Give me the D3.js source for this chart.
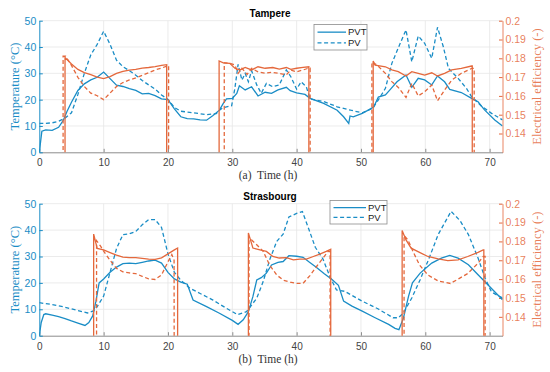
<!DOCTYPE html>
<html>
<head>
<meta charset="utf-8">
<script src="https://cdn.jsdelivr.net/npm/d3@7"></script>
<style>
body { margin: 0; background: #fff; }
text { font-family: "Liberation Sans", Arial, sans-serif; }
.serif { font-family: "Liberation Serif", "Times New Roman", serif; }
</style>
</head>
<body>
<script>
// Tampere, temperature (degC) vs time (h)
var tamperePvtTemp = [[0,0],[0.4,8],[1,8.5],[2,8.3],[3,9.5],[3.7,12],[4.3,15.5],[5,19],[6,23.5],[7,26],[8,27.5],[9,28.5],[10,30.5],[11,28],[12,25.5],[13,25],[14,24.2],[15,23.5],[16,22.2],[17,22.4],[18,21.5],[19,20.3],[20,20],[21,16.5],[22,13.5],[23,12.8],[24,12.7],[25,12.3],[26,12.2],[27,14],[28,16],[28.6,18.6],[29.1,20.3],[30,20.5],[30.7,22.4],[31.1,25.3],[32,23.7],[33,24.9],[34,21.4],[35.1,22.8],[36.1,22.4],[37.1,23.7],[38.4,24.7],[39,23.4],[40,22.6],[41.3,22],[42.1,20.5],[44.2,18.6],[46.3,16],[47.3,13.5],[48.1,11],[48.3,13.8],[48.8,13.5],[50.2,14.8],[51.2,16.1],[52,17.3],[52.7,21],[53.8,21.8],[54.5,23.7],[55.6,26.8],[57,29.4],[57.9,24.7],[58.9,28.1],[59.9,27.5],[61,25.6],[61.9,29],[63,26.8],[63.8,23.9],[65.6,22.7],[67.2,20.5],[68.2,19.2],[69.2,16.1],[70.8,12.3],[72,10]];
var tamperePvTemp = [[0,11],[1,11],[2,11.2],[3,11.8],[4,13],[5,15],[6,22],[7,30],[8,37],[9,41],[10,46],[11,41],[12,35],[13,32.5],[14,31],[15,29.3],[16,27.3],[17,25.6],[18,24],[19,21.8],[20,20.1],[21,17],[22,15.6],[24,15],[26,14.3],[27.5,14.7],[28,16],[28.6,17],[29.9,17.7],[30.4,24.3],[30.9,33.4],[31.5,27.4],[32,30],[32.5,26.8],[33,31],[33.8,25.6],[34.5,22.4],[35.3,26.2],[36.3,24.9],[37.3,25.6],[38.4,31.3],[39.1,28.7],[40,24],[40.7,26.8],[41.5,24.9],[42.1,20.3],[44.2,19.3],[46.3,17.3],[48.4,16],[50.2,15],[51.8,16.7],[52.7,19.9],[53.8,24.3],[54.8,33.8],[56.1,41.4],[57,46.5],[57.9,34.4],[58.9,44.2],[59.9,41.4],[61,35.7],[61.9,47.5],[62.8,40.1],[63.6,31.9],[65.1,28.1],[66.4,24.3],[67.2,21.1],[68.7,17.6],[70.3,14.8],[72,12.3]];
// Tampere, electrical efficiency (-) vs time (h), 0 at night
var tamperePvtEff = [[0,0],[4,0],[4,0.1804],[5,0.177],[6,0.1741],[7,0.1724],[8,0.1713],[9,0.170],[10,0.1692],[11,0.1703],[12,0.172],[13,0.173],[14,0.1737],[15,0.1741],[16,0.1748],[17,0.1751],[18,0.1756],[19,0.1762],[19.8,0.1766],[19.8,0],[27.95,0],[27.95,0.1786],[28.6,0.1776],[29.6,0.1773],[30.4,0.1747],[31.2,0.1738],[32,0.1751],[33,0.1738],[34,0.1755],[35.1,0.1747],[36.3,0.1751],[37.3,0.1742],[38.4,0.1751],[39.1,0.1741],[40,0.1747],[41,0.1752],[41.9,0.1755],[41.9,0],[51.9,0],[51.9,0.1785],[52.2,0.1764],[53.8,0.1755],[54.8,0.1738],[55.8,0.1729],[57,0.1706],[57.9,0.1729],[58.9,0.172],[59.9,0.1711],[61,0.1723],[61.9,0.1706],[63,0.172],[64.1,0.1738],[65.6,0.1746],[67.2,0.1759],[67.3,0.1759],[67.3,0],[72,0]];
var tamperePvEff = [[0,0],[3.7,0],[3.7,0.1811],[4.1,0.1811],[5,0.1762],[6,0.1699],[7,0.165],[8,0.1615],[9,0.1601],[10,0.158],[11,0.1615],[12,0.165],[13,0.1671],[14,0.1685],[15,0.1696],[16,0.171],[17,0.1723],[18,0.1738],[19,0.1748],[20.1,0.1762],[20.1,0],[28.75,0],[28.75,0.1776],[29.6,0.1773],[30.4,0.1765],[30.9,0.172],[31.5,0.1747],[32.3,0.1714],[33,0.1747],[34,0.1728],[35.1,0.172],[36.1,0.1726],[37.3,0.172],[38.4,0.1712],[39.1,0.1738],[40,0.1728],[41,0.1738],[41.8,0.1747],[42.1,0.1747],[42.1,0],[51.7,0],[51.7,0.178],[52.5,0.1764],[53.8,0.172],[54.8,0.1676],[55.8,0.1645],[57,0.1592],[57.9,0.1667],[58.9,0.16],[59.9,0.1622],[61,0.1658],[61.9,0.1574],[63,0.1631],[64.1,0.1684],[65.6,0.172],[67.2,0.1746],[67.6,0.1746],[67.6,0],[72,0]];

// Strasbourg
var strasPvtTemp = [[0,0],[0.3,5],[0.7,8],[1,8.3],[2,7.8],[3,7.2],[4,6.5],[5,5.6],[6,4.8],[7.1,3.9],[7.7,5],[8.3,7.5],[8.8,13],[9.3,20],[10,21.5],[11,24],[12,26],[13,27.3],[14,27.5],[15,27.3],[16,27.8],[17,28.3],[18,28.6],[19,27.5],[20,24],[21,21.5],[22,20.3],[23,19.5],[23.9,13.5],[26,11],[28,8.5],[30,5.8],[30.9,4.3],[31.7,6],[32.5,9.1],[33.2,14.8],[33.8,21.1],[34.5,22],[35.3,23.7],[36.1,26.8],[37.1,27.8],[37.9,28.1],[38.8,30.3],[40,30.1],[41,29.7],[42,27.8],[43,26],[44.3,23.5],[45.5,21.3],[46.5,19.1],[47.3,13.1],[48.6,11.2],[50.2,9.3],[52.2,6.8],[54.3,4.3],[55.3,2.8],[55.9,2.3],[56.6,6.7],[57.4,15],[58,20],[59.2,23.7],[61,27.5],[62.5,29.4],[63.8,30.4],[65.1,29.4],[66.7,26.9],[68.2,23.1],[69.8,19.1],[72,13.6]];
var strasPvTemp = [[0,12.5],[2,11.8],[4,10.8],[6,9.5],[7.5,8.6],[8.5,9.5],[9,11],[10,15],[11,24],[12,33],[13,38.3],[14,38.6],[15,39.5],[16,42],[17,44],[18,44],[19,41],[20,31],[21,24],[22,21],[23.4,18],[25,16],[27,13.5],[29,10.5],[30.8,8],[32.2,9.1],[33,11.6],[33.8,14.2],[34.8,20.5],[35.8,28.7],[36.9,35.7],[37.9,38.5],[38.8,45],[40,46.3],[40.9,47],[41.9,40.3],[42.9,33.5],[44.1,29],[45.2,22.2],[46.2,17.3],[47.5,16.8],[50.1,13.2],[52.7,10.1],[55,6.8],[55.8,6.8],[56.6,8.6],[57.9,14.3],[59.2,21.2],[60.5,28.8],[62,38.3],[64,47.1],[65.4,43.6],[66.7,38.3],[68.2,29.4],[69.3,21.8],[70.3,16.5],[72,14.3]];
var strasPvtEff = [[0,0],[8.45,0],[8.45,0.1839],[9,0.1763],[10,0.1755],[11,0.1741],[12,0.1727],[13,0.1717],[14,0.1714],[15,0.1714],[16,0.171],[17,0.1706],[18,0.1705],[19,0.1713],[20,0.1734],[21,0.1755],[21.5,0.1765],[21.5,0],[32.5,0],[32.5,0.1845],[33.2,0.1765],[34.3,0.1755],[35.3,0.1747],[36.3,0.172],[37.3,0.1712],[38.4,0.1714],[39.5,0.1702],[40.5,0.1706],[41.5,0.1706],[42.6,0.172],[43.6,0.1733],[44.6,0.1747],[45.3,0.1758],[45.3,0],[56.4,0],[56.4,0.1858],[57,0.1808],[57.8,0.1764],[59.1,0.1742],[60.4,0.172],[62,0.1707],[63.5,0.1698],[65.1,0.1702],[66.6,0.172],[68.2,0.1742],[69,0.1755],[69.1,0.1755],[69.1,0],[72,0]];
var strasPvEff = [[0,0],[8.9,0],[8.9,0.1804],[9.5,0.1776],[10,0.1748],[11,0.17],[12,0.1657],[13,0.1639],[14,0.1633],[15,0.1629],[16,0.1615],[17,0.1601],[18,0.1598],[19,0.1622],[20,0.1692],[20.6,0.173],[20.95,0.170],[21,0],[32.6,0],[32.6,0.1808],[33,0.1808],[33.8,0.1782],[34.8,0.1747],[35.8,0.1675],[36.9,0.1622],[37.9,0.1595],[39,0.1584],[40,0.1578],[41,0.1578],[42.1,0.162],[43.1,0.1667],[44.1,0.1712],[44.9,0.1747],[45.2,0.1747],[45.2,0],[56.7,0],[56.7,0.1831],[57.3,0.1808],[58.1,0.1746],[59.1,0.1675],[60.4,0.1622],[62,0.159],[63.9,0.1577],[65.3,0.1604],[66.6,0.163],[68.2,0.1684],[69,0.172],[69.3,0.172],[69.3,0],[72,0]];

var timeTicks = [0, 10, 20, 30, 40, 50, 60, 70];
var tempTicks = [0, 10, 20, 30, 40, 50];
var effTicks = [0.14, 0.15, 0.16, 0.17, 0.18, 0.19, 0.2];
var legendNames = ["PVT", "PV"];

var width = 550, height = 372,
    blue = "#1a8dc6", orange = "#e4683c",
    plotLeft = 39.3, plotRight = 502.5;

var svg = d3.select("body").append("svg")
    .attr("width", width)
    .attr("height", height)
    .style("background", "#fff");

var x = d3.scaleLinear().domain([0, 72]).range([plotLeft, plotRight]);

var panels = [
    {id: "a", title: "Tampere", caption: "(a)  Time (h)", top: 20.7, bottom: 152.3,
     pvtT: tamperePvtTemp, pvT: tamperePvTemp, pvtE: tamperePvtEff, pvE: tamperePvEff,
     legend: {x: 314, y: 24.5, w: 53, h: 25.5}},
    {id: "b", title: "Strasbourg", caption: "(b)  Time (h)", top: 203.7, bottom: 335.7,
     pvtT: strasPvtTemp, pvT: strasPvTemp, pvtE: strasPvtEff, pvE: strasPvEff,
     legend: {x: 330, y: 200.5, w: 57, h: 23.5}}
];

panels.forEach(drawPanel);

function drawPanel(p) {
    var yT = d3.scaleLinear().domain([0, 50]).range([p.bottom, p.top]);
    var yE = d3.scaleLinear().domain([0.13, 0.2]).range([p.bottom, p.top]);
    var g = svg.append("g");

    g.append("clipPath").attr("id", "clip-" + p.id)
        .append("rect")
        .attr("x", plotLeft).attr("y", p.top)
        .attr("width", plotRight - plotLeft).attr("height", p.bottom - p.top);

    // grid
    g.selectAll(".vgrid").data(timeTicks.slice(1)).enter().append("line")
        .attr("x1", d => x(d)).attr("x2", d => x(d))
        .attr("y1", p.top).attr("y2", p.bottom)
        .attr("stroke", "#e6e6e6").attr("stroke-width", 0.8);
    g.selectAll(".hgrid").data(tempTicks.slice(1)).enter().append("line")
        .attr("x1", plotLeft).attr("x2", plotRight)
        .attr("y1", d => yT(d)).attr("y2", d => yT(d))
        .attr("stroke", "#e6e6e6").attr("stroke-width", 0.8);

    // axes
    var xAxis = g.append("g")
        .attr("transform", "translate(0," + p.bottom + ")")
        .call(d3.axisBottom(x).tickValues(timeTicks).tickSize(-3.5).tickPadding(6.8).tickSizeOuter(0));
    xAxis.select(".domain").attr("stroke", "#8c8c8c");
    xAxis.selectAll(".tick line").attr("stroke", "#8c8c8c");
    xAxis.selectAll("text").attr("fill", "#444").style("font-size", "10px");

    var lAxis = g.append("g")
        .attr("transform", "translate(" + plotLeft + ",0)")
        .call(d3.axisLeft(yT).tickValues(tempTicks).tickSize(-3.5).tickPadding(3).tickSizeOuter(0));
    lAxis.select(".domain").attr("stroke", blue);
    lAxis.selectAll(".tick line").attr("stroke", blue);
    lAxis.selectAll("text").attr("fill", blue).style("font-size", "10.5px");

    var rAxis = g.append("g")
        .attr("transform", "translate(" + plotRight + ",0)")
        .call(d3.axisRight(yE).tickValues(effTicks).tickSize(-3.5).tickPadding(3).tickSizeOuter(0)
            .tickFormat(d => String(+d.toFixed(2))));
    rAxis.select(".domain").attr("stroke", orange).attr("stroke-opacity", 0.8);
    rAxis.selectAll(".tick line").attr("stroke", orange);
    rAxis.selectAll("text").attr("fill", orange).attr("fill-opacity", 0.85).style("font-size", "10.5px");

    // lines
    var lineT = d3.line().x(d => x(d[0])).y(d => yT(d[1]));
    var lineE = d3.line().x(d => x(d[0])).y(d => yE(d[1]));
    var plot = g.append("g").attr("clip-path", "url(#clip-" + p.id + ")");

    plot.append("path").datum(p.pvT).attr("d", lineT)
        .attr("fill", "none").attr("stroke", blue).attr("stroke-width", 1.3)
        .attr("stroke-dasharray", "4,2.6");
    plot.append("path").datum(p.pvtT).attr("d", lineT)
        .attr("fill", "none").attr("stroke", blue).attr("stroke-width", 1.3);
    plot.append("path").datum(p.pvE).attr("d", lineE)
        .attr("fill", "none").attr("stroke", orange).attr("stroke-width", 1.3)
        .attr("stroke-dasharray", "4,2.6");
    plot.append("path").datum(p.pvtE).attr("d", lineE)
        .attr("fill", "none").attr("stroke", orange).attr("stroke-width", 1.3);

    // titles and labels
    g.append("text")
        .attr("x", 270).attr("y", p.top - 4)
        .attr("text-anchor", "middle")
        .style("font-size", "10px").style("font-weight", "bold")
        .text(p.title);

    g.append("text").attr("class", "serif")
        .attr("x", 268).attr("y", p.bottom + 26.8)
        .attr("text-anchor", "middle")
        .attr("fill", "#333")
        .style("font-size", "11.5px")
        .style("white-space", "pre")
        .text(p.caption);

    var mid = (p.top + p.bottom) / 2;
    g.append("text").attr("class", "serif")
        .attr("transform", "translate(19," + mid + ") rotate(-90)")
        .attr("text-anchor", "middle")
        .attr("fill", blue)
        .style("font-size", "12.5px")
        .text("Temperature (\u00B0C)");

    g.append("text").attr("class", "serif")
        .attr("transform", "translate(541," + mid + ") rotate(-90)")
        .attr("text-anchor", "middle")
        .attr("fill", orange).attr("fill-opacity", 0.85)
        .style("font-size", "12.5px")
        .text("Electrical efficiency (-)");

    // legend
    var L = p.legend;
    var lg = g.append("g").attr("transform", "translate(" + L.x + "," + L.y + ")");
    lg.append("rect").attr("width", L.w).attr("height", L.h)
        .attr("fill", "#fff").attr("stroke", "#8c8c8c").attr("stroke-width", 0.8);
    legendNames.forEach(function (name, i) {
        var ly = L.h * (0.3 + 0.42 * i);
        lg.append("line")
            .attr("x1", 3.5).attr("x2", L.w - 21)
            .attr("y1", ly).attr("y2", ly)
            .attr("stroke", blue).attr("stroke-width", 1.3)
            .attr("stroke-dasharray", i === 1 ? "4,2.6" : null);
        lg.append("text")
            .attr("x", L.w - 19).attr("y", ly)
            .attr("dy", "0.35em")
            .attr("fill", "#222")
            .style("font-size", "9.5px")
            .text(name);
    });
}
</script>
</body>
</html>
